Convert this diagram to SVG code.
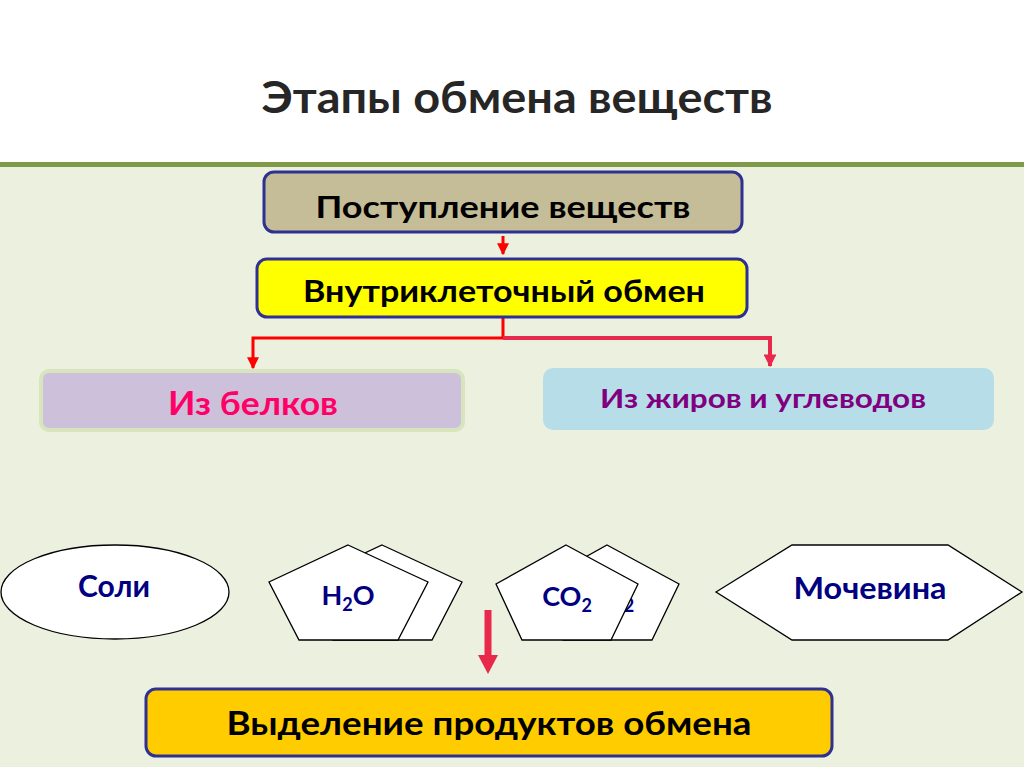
<svg xmlns="http://www.w3.org/2000/svg" width="1024" height="767" viewBox="0 0 1024 767">
<style>
text{font-family:Lato,"Open Sans","Liberation Sans",sans-serif;font-weight:bold;text-anchor:middle}
.box{stroke:#2E3192;stroke-width:3}
.shape{fill:#fff;stroke:#000;stroke-width:1.3}
.navy{fill:#000080;font-size:27px}
.red{fill:none;stroke:#FF0000;stroke-width:3}
.crim{fill:none;stroke:#E8294B;stroke-width:4}
</style>
<defs>
<marker id="ah" viewBox="0 0 10 10" refX="9" refY="5" markerWidth="4" markerHeight="4" orient="auto" markerUnits="strokeWidth"><path d="M0,0L10,5L0,10z" fill="#FF0000"/></marker>
<marker id="ahc" viewBox="0 0 10 10" refX="9" refY="5" markerWidth="3.2" markerHeight="3.2" orient="auto" markerUnits="strokeWidth"><path d="M0,0L10,5L0,10z" fill="#E8294B"/></marker>
</defs>
<rect x="0" y="0" width="1024" height="767" fill="#fff"/>
<rect x="0" y="166" width="1024" height="601" fill="#EBF1DE"/>
<rect x="0" y="162" width="1024" height="5" fill="#7F9A48"/>
<text x="517" y="113" font-size="43" fill="#262626" textLength="511" lengthAdjust="spacingAndGlyphs">Этапы обмена веществ</text>

<g id="connectors">
<line x1="503" y1="236" x2="503" y2="254" class="red" marker-end="url(#ah)"/>
<polyline points="503,318 503,338 253,338 253,368" class="red" marker-end="url(#ah)"/>
<polyline points="503,338 770,338 770,366" class="crim" marker-end="url(#ahc)"/>
<polygon points="484.5,610 491.5,610 491.5,655 498,655 488,674 478,655 484.5,655" fill="#E8294B"/>
</g>

<g id="n1">
<rect x="264" y="172" width="478" height="60" rx="10" class="box" fill="#C4BD97"/>
<text x="503" y="218" font-size="31" fill="#000" textLength="375" lengthAdjust="spacingAndGlyphs">Поступление веществ</text>
</g>
<g id="n2">
<rect x="257" y="259" width="490" height="58" rx="10" class="box" fill="#FFFF00"/>
<text x="504" y="302" font-size="30" fill="#000" textLength="402" lengthAdjust="spacingAndGlyphs">Внутриклеточный обмен</text>
</g>
<g id="n3">
<rect x="41" y="371" width="422" height="59" rx="8" fill="#CCC0DA" stroke="#D7E4BD" stroke-width="4"/>
<text x="253" y="415" font-size="32" fill="#FF0066" textLength="170" lengthAdjust="spacingAndGlyphs">Из белков</text>
</g>
<g id="n4">
<rect x="543" y="368" width="451" height="62" rx="10" fill="#B7DEE8"/>
<text x="763" y="408" font-size="26" fill="#800080" textLength="326" lengthAdjust="spacingAndGlyphs">Из жиров и углеводов</text>
</g>
<g id="n5">
<ellipse cx="115" cy="592" rx="114" ry="47" class="shape"/>
<text x="114" y="597" class="navy" font-size="30" style="font-size:30px" textLength="72" lengthAdjust="spacingAndGlyphs">Соли</text>
</g>
<g id="n6">
<polygon points="382,545 462,582 432,640 333,640 303,582" class="shape"/>
<polygon points="348,545 428,582 398,640 299,640 269,582" class="shape"/>
<text x="348" y="605" class="navy">H<tspan font-size="18" dy="6">2</tspan><tspan dy="-6">O</tspan></text>
</g>
<g id="n7">
<polygon points="607,545 679,584 652,640 563,640 537,584" class="shape"/>
<text x="629" y="612" class="navy" style="font-size:18px">2</text>
<polygon points="566,545 638,584 611,640 522,640 496,584" class="shape"/>
<text x="567" y="606" class="navy">CO<tspan font-size="18" dy="6">2</tspan></text>
</g>
<g id="n8">
<polygon points="716,592 792,545 948,545 1022,592 948,640 792,640" class="shape"/>
<text x="870" y="599" class="navy" style="font-size:30px" textLength="153" lengthAdjust="spacingAndGlyphs">Мочевина</text>
</g>
<g id="n9">
<rect x="146" y="689" width="686" height="67" rx="10" class="box" fill="#FFCC00"/>
<text x="489" y="735" font-size="32" fill="#000" textLength="525" lengthAdjust="spacingAndGlyphs">Выделение продуктов обмена</text>
</g>
</svg>
